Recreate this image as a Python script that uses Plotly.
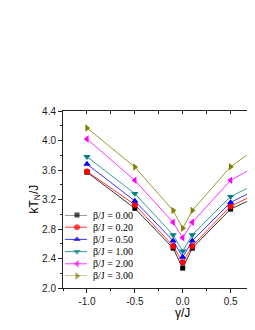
import plotly.graph_objects as go

# ---- data ----
gamma = [-1.0, -0.5, -0.1, 0.0, 0.1, 0.5, 1.0]
beta_labels = ["β/J = 0.00", "β/J = 0.20", "β/J = 0.50", "β/J = 1.00", "β/J = 2.00", "β/J = 3.00"]
tn_b000 = [3.57, 3.08, 2.54, 2.27, 2.54, 3.07, 3.37]
tn_b020 = [3.58, 3.13, 2.57, 2.35, 2.57, 3.11, 3.42]
tn_b050 = [3.68, 3.18, 2.64, 2.42, 2.64, 3.16, 3.49]
tn_b100 = [3.78, 3.28, 2.72, 2.50, 2.72, 3.24, 3.56]
tn_b200 = [4.02, 3.46, 2.89, 2.68, 2.89, 3.46, 3.82]
tn_b300 = [4.17, 3.64, 3.05, 2.81, 3.05, 3.645, 4.11]
x_ticks = [-1.0, -0.5, 0.0, 0.5]
y_ticks = [2.0, 2.4, 2.8, 3.2, 3.6, 4.0, 4.4]

series = [tn_b000, tn_b020, tn_b050, tn_b100, tn_b200, tn_b300]
colors = ["#000000", "#FF0000", "#0000FF", "#008080", "#FF00FF", "#808000"]
symbols = ["square", "circle", "triangle-up", "triangle-down", "triangle-left", "triangle-right"]
sizes = [5, 6, 6.5, 6.5, 6.5, 6.5]

fig = go.Figure()
for vals, col, sym, sz in zip(series, colors, symbols, sizes):
    fig.add_trace(go.Scatter(
        x=gamma, y=vals, mode="lines+markers",
        line=dict(color=col, width=0.8),
        marker=dict(symbol=sym, color=col, size=sz, line=dict(width=0)),
        showlegend=False, hoverinfo="skip"))

# invisible trace to anchor the top (mirror) axis
fig.add_trace(go.Scatter(x=gamma[:1], y=tn_b000[:1], xaxis="x2", yaxis="y",
                         mode="markers", marker=dict(opacity=0), showlegend=False,
                         hoverinfo="skip"))

# custom compact legend
for i, (lab, col, sym, sz) in enumerate(zip(beta_labels, colors, symbols, sizes)):
    fig.add_trace(go.Scatter(
        x=[0, 0.545, 1], y=[i, i, i], xaxis="x3", yaxis="y3",
        mode="lines+markers", line=dict(color=col, width=0.8),
        marker=dict(symbol=sym, color=col, size=[0, sz, 0], line=dict(width=0)),
        cliponaxis=False, showlegend=False, hoverinfo="skip"))
    fig.add_annotation(x=1, y=i, xref="x3", yref="y3", text=lab, showarrow=False,
                       xanchor="left", yanchor="middle", xshift=4,
                       font=dict(family="Liberation Serif", size=10, color="#000"))

tick_font = dict(family="Liberation Sans, Arial", size=10, color="#222")
XR = [-1.25, 0.755]

# the page body adds an 8 px offset; the figure is sized to fill the rest
fig.update_layout(
    width=247, height=322,
    margin=dict(l=55, r=0, t=103, b=42),
    paper_bgcolor="white", plot_bgcolor="white",
    showlegend=False,
    xaxis=dict(range=XR, tickvals=x_ticks, ticktext=[f"{v:.1f}" for v in x_ticks],
               showline=True, linecolor="#222", linewidth=1,
               ticks="outside", ticklen=4, tickcolor="#222", tickwidth=1,
               minor=dict(ticks="outside", ticklen=2, dtick=0.25, tick0=0, tickcolor="#222"),
               showgrid=False, zeroline=False, tickfont=tick_font, fixedrange=True),
    xaxis2=dict(range=XR, overlaying="x", side="top", anchor="y",
                showline=True, linecolor="#222", linewidth=1,
                tickvals=x_ticks, showticklabels=False,
                ticks="inside", ticklen=3, tickcolor="#222",
                minor=dict(ticks="inside", ticklen=3, dtick=0.25, tick0=0, tickcolor="#222"),
                showgrid=False, zeroline=False),
    yaxis=dict(range=[2.0, 4.4], tickvals=y_ticks, ticktext=[f"{v:.1f}" for v in y_ticks],
               showline=True, linecolor="#222", linewidth=1,
               ticks="outside", ticklen=4, tickcolor="#222",
               minor=dict(ticks="outside", ticklen=2, dtick=0.2, tick0=2.0, tickcolor="#222"),
               showgrid=False, zeroline=False, tickfont=tick_font),
    xaxis3=dict(domain=[0.0104, 0.125], range=[0, 1], visible=False, anchor="y3"),
    yaxis3=dict(domain=[0.0678, 0.4124], range=[5, 0], visible=False, anchor="x3"),
)

# axis titles
fig.add_annotation(x=0, y=-0.14, xref="x", yref="paper", text="γ/J", showarrow=False,
                   xanchor="center", yanchor="middle",
                   font=dict(family="Liberation Sans, Arial", size=12, color="#000"))
fig.add_annotation(x=-0.151, y=0.5, xref="paper", yref="paper", text="kT<sub>N</sub>/J",
                   showarrow=False, textangle=-90, xanchor="center", yanchor="middle",
                   font=dict(family="Liberation Sans, Arial", size=12, color="#000"))

fig.write_html("out.html")
